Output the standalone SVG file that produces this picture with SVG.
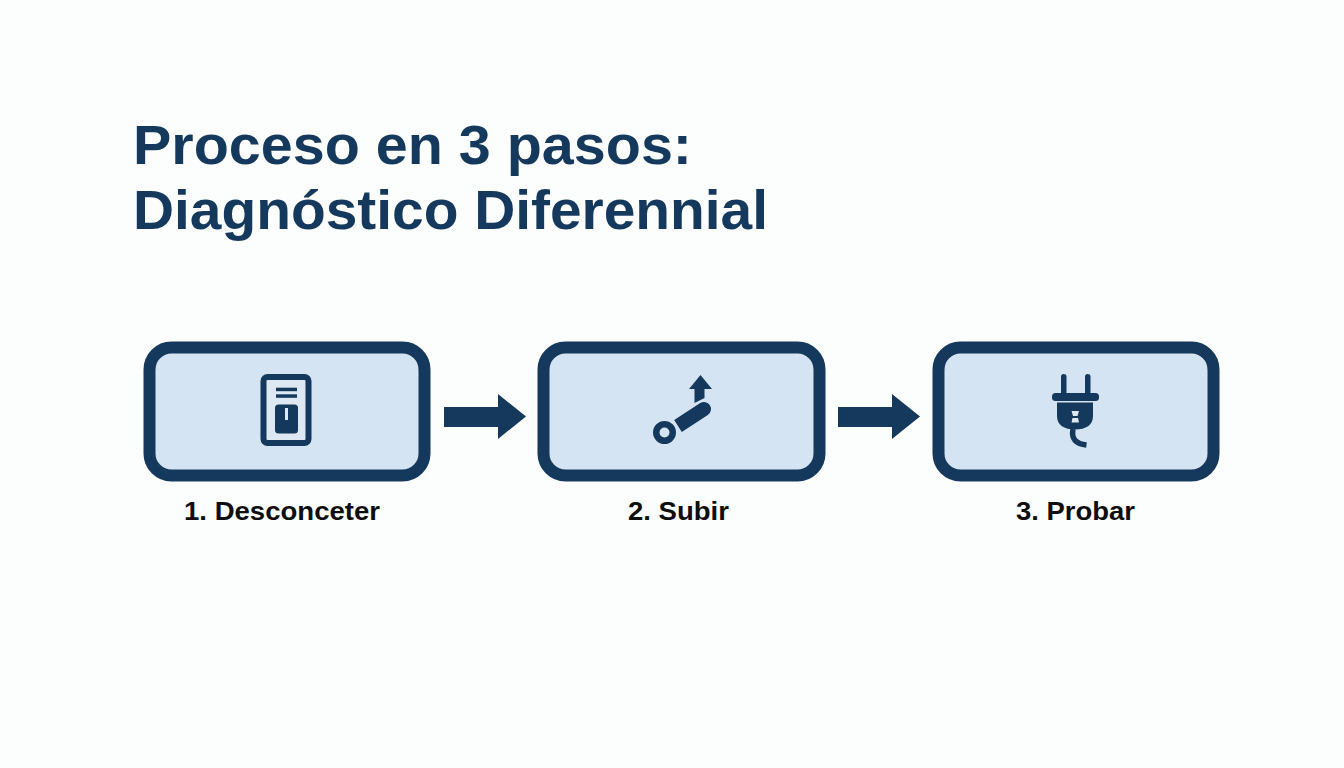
<svg xmlns="http://www.w3.org/2000/svg" width="1344" height="768" viewBox="0 0 1344 768">
<style>
.box{fill:#d5e4f2;stroke:#15395c;stroke-width:12}
.ink{fill:#15395c}
.title{font:bold 55px "Liberation Sans",Arial,sans-serif;fill:#15395c}
.lab{font:bold 26.500px "Liberation Sans",Arial,sans-serif;fill:#0e0e0e}
</style>
<rect width="1344" height="768" fill="#fcfdfd"/>
<g id="title">
<text class="title" x="133" y="164" textLength="559" lengthAdjust="spacingAndGlyphs">Proceso en 3 pasos:</text>
<text class="title" x="133" y="229" textLength="635" lengthAdjust="spacingAndGlyphs">Diagnóstico Diferennial</text>
</g>
<g id="connectors" class="ink">
<path d="M444 407H498V394L526 416.500 498 439V427H444Z"/>
<path d="M838 407H892V394L920 416.500 892 439V427H838Z"/>
</g>
<g id="node1">
<rect class="box" x="149.500" y="347.500" width="275" height="128" rx="22"/>
<rect x="263.500" y="377" width="45" height="66" rx="4" fill="#dde8f3" stroke="#15395c" stroke-width="6"/>
<rect class="ink" x="276" y="387.700" width="21" height="3.500"/>
<rect class="ink" x="276" y="394.300" width="21" height="3.500"/>
<rect class="ink" x="275" y="404.500" width="23" height="29" rx="3.500"/>
<rect x="285" y="408" width="3" height="12" fill="#dde8f3"/>
<text class="lab" x="184" y="520" textLength="196" lengthAdjust="spacingAndGlyphs">1. Desconceter</text>
</g>
<g id="node2">
<rect class="box" x="543.500" y="347.500" width="276" height="128" rx="22"/>
<circle cx="664.500" cy="432.500" r="8.250" fill="#d5e4f2" stroke="#15395c" stroke-width="6.500"/>
<path class="ink" d="M674.200 420.100L700.200 403.100A7 7 0 0 1 707.800 414.900L681.800 431.900Z"/>
<path class="ink" d="M694.500 403V389H689L700.500 375 712 389H704.500V398Z"/>
<text class="lab" x="628" y="520" textLength="101" lengthAdjust="spacingAndGlyphs">2. Subir</text>
</g>
<g id="node3">
<rect class="box" x="938.500" y="347.500" width="275" height="128" rx="22"/>
<rect class="ink" x="1052" y="393" width="47" height="8" rx="3.500"/>
<rect class="ink" x="1061" y="374" width="5.500" height="21" rx="2.700"/>
<rect class="ink" x="1085" y="374" width="5.500" height="21" rx="2.700"/>
<path class="ink" d="M1057 402.500H1093V416C1093 425 1086 429.500 1075 429.500 1064 429.500 1057 425 1057 416Z"/>
<path d="M1071.500 411H1079L1077.500 416H1073ZM1072.500 418H1078L1079 422.500H1071.500Z" fill="#dde8f3"/>
<path d="M1073 429C1071 439 1076 444 1086.500 445" stroke="#15395c" stroke-width="5.500" fill="none"/>
<text class="lab" x="1016" y="520" textLength="119" lengthAdjust="spacingAndGlyphs">3. Probar</text>
</g>
</svg>
